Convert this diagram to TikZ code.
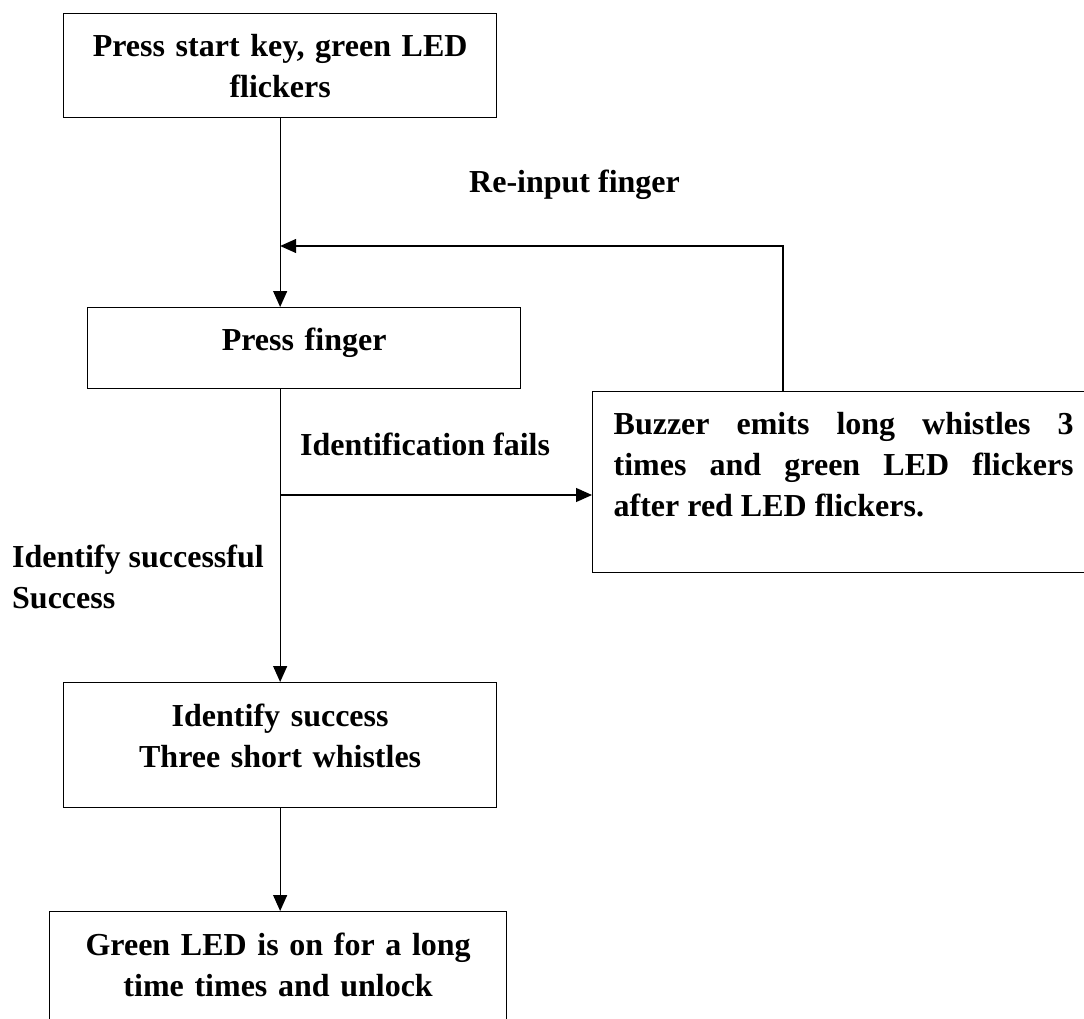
\documentclass[tikz,border=0pt]{standalone}
\usepackage{fontspec}
\setmainfont{Liberation Serif}
\usetikzlibrary{arrows.meta}
\begin{document}
\begin{tikzpicture}[x=1pt,y=-1pt,
  every node/.style={font=\bfseries\fontsize{32}{41}\selectfont},
  flowbox/.style={draw, line width=1.3pt, anchor=north west, inner sep=0pt, align=center},
  flowlabel/.style={inner sep=0pt},
  link/.style={line width=1.2pt, -{Triangle[length=16pt,width=14pt]}}]
\useasboundingbox (0,0) rectangle (1084,1019);
\begin{scope}
\clip (0,0) rectangle (1084,1019);

% process boxes
\node[flowbox, minimum width=433pt, minimum height=104pt, text width=433pt]
  (start) at (63,13) {Press start key, green LED\\flickers};
\node[flowbox, minimum width=433pt, minimum height=81pt, text width=433pt]
  (press) at (87,307) {Press finger\rule[-17pt]{0pt}{17pt}};
\node[flowbox, align=justify, text width=460pt, inner xsep=21pt, minimum height=181pt]
  (buzz) at (592,391) {Buzzer emits long whistles 3\linebreak times and green LED flickers\linebreak after red LED flickers.\rule[-36pt]{0pt}{36pt}};
\node[flowbox, minimum width=433pt, minimum height=125pt, text width=433pt]
  (check) at (63,682) {Identify success\\Three short whistles\rule[-18pt]{0pt}{18pt}};
\node[flowbox, minimum width=457pt, minimum height=119pt, text width=457pt]
  (unlock) at (49,911) {Green LED is on for a long\\time times and unlock\rule[-12pt]{0pt}{12pt}};

% branch labels
\node[flowlabel, anchor=base west] (relbl) at (469,193) {Re-input finger};
\node[flowlabel, anchor=base west] (faillbl) at (300,455) {Identification fails};
\node[flowlabel, anchor=north west, align=left] (oklbl) at (12,545) {Identify successful\\Success};

% connectors
\coordinate (loop) at (783,246);
\coordinate (fork) at (check.north |- 0,495);
\draw[link] (start.south) -- (start.south |- press.north);
\draw[link] (loop |- buzz.north) -- (loop) -- (loop -| start.south);
\draw[link] (check.north |- press.south) -- (check.north);
\draw[link] (fork) -- (fork -| buzz.west);
\draw[link] (check.south) -- (check.south |- unlock.north);
\end{scope}
\end{tikzpicture}
\end{document}
